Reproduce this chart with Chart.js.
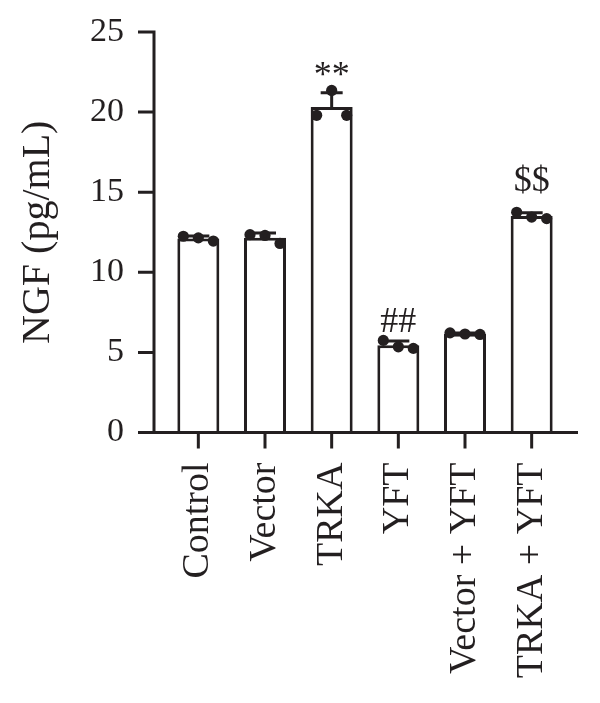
<!DOCTYPE html>
<html>
<head>
<meta charset="utf-8">
<script src="https://cdn.jsdelivr.net/npm/chart.js@4/dist/chart.umd.min.js"></script>
<style>
  html, body { margin: 0; padding: 0; background: #ffffff; }
  #wrap { width: 600px; height: 703px; }
</style>
</head>
<body>
<div id="wrap"><canvas id="chart-ngf"></canvas></div>
<script>
const grupos = ['Control', 'Vector', 'TRKA', 'YFT', 'Vector + YFT', 'TRKA + YFT'];
const control = [12.25, 12.15, 11.95];
const vector = [12.35, 12.3, 11.8];
const trka = [19.8, 21.35, 19.8];
const yft = [5.75, 5.35, 5.25];
const vectorYft = [6.22, 6.15, 6.12];
const trkaYft = [13.75, 13.45, 13.35];
const marcas = ['', '', '**', '##', '', '$$'];
const yTicks = [0, 5, 10, 15, 20, 25];

const replicas = [control, vector, trka, yft, vectorYft, trkaYft];
const jitter = [-0.225, 0, 0.225];
const marcaLift = [0, 0, 0, 4.5, 0, 17.5];
const INK = '#231f20';
const FONT = "'Liberation Serif', 'DejaVu Serif', serif";

const media = (arr) => arr.reduce((a, b) => a + b, 0) / arr.length;
const desvio = (arr) => {
  const m = media(arr);
  return Math.sqrt(arr.reduce((s, v) => s + (v - m) * (v - m), 0) / (arr.length - 1));
};

const medias = replicas.map(media);
const pontos = [];
replicas.forEach((vals, i) => {
  vals.forEach((v, j) => pontos.push({ x: i + jitter[j], y: v }));
});

function semPadding(scale) {
  scale.paddingTop = 0;
  scale.paddingBottom = 0;
  scale.paddingLeft = 0;
  scale.paddingRight = 0;
}

// axes, error bars and significance marks drawn by hand
const eixosPlugin = {
  id: 'eixos',
  afterDatasetsDraw(chart) {
    const { ctx } = chart;
    const y = chart.scales.y;
    const x = chart.scales.x;
    const base = y.getPixelForValue(0);
    ctx.save();
    ctx.strokeStyle = INK;
    ctx.lineWidth = 3;
    ctx.lineCap = 'butt';

    // error bars (mean + SD, upper only)
    replicas.forEach((vals, i) => {
      const cx = x.getPixelForValue(i);
      const top = y.getPixelForValue(medias[i] + desvio(vals));
      const yM = y.getPixelForValue(medias[i]);
      ctx.beginPath();
      ctx.moveTo(cx, yM);
      ctx.lineTo(cx, top);
      ctx.moveTo(cx - 11, top);
      ctx.lineTo(cx + 11, top);
      ctx.stroke();
    });

    // y axis
    const axX = 154;
    ctx.beginPath();
    ctx.moveTo(axX, y.getPixelForValue(25) - 1.5);
    ctx.lineTo(axX, base + 1.5);
    yTicks.forEach((t) => {
      const py = y.getPixelForValue(t);
      ctx.moveTo(138, py);
      ctx.lineTo(axX, py);
    });
    // x axis
    ctx.moveTo(138, base);
    ctx.lineTo(578, base);
    grupos.forEach((g, i) => {
      const px = x.getPixelForValue(i);
      ctx.moveTo(px, base);
      ctx.lineTo(px, base + 16);
    });
    ctx.stroke();

    // significance marks
    ctx.fillStyle = INK;
    ctx.font = '36px ' + FONT;
    ctx.textAlign = 'center';
    ctx.textBaseline = 'alphabetic';
    marcas.forEach((m, i) => {
      if (!m) return;
      const topVal = Math.max(medias[i] + desvio(replicas[i]), ...replicas[i]);
      const py = y.getPixelForValue(topVal) - 4 - marcaLift[i];
      ctx.fillText(m, x.getPixelForValue(i), py);
    });
    ctx.restore();
  },
};

const ctxNgf = document.getElementById('chart-ngf');

new Chart(ctxNgf, {
  data: {
    labels: grupos,
    datasets: [
      {
        type: 'bar',
        label: 'NGF',
        data: medias,
        backgroundColor: '#ffffff',
        borderColor: INK,
        borderWidth: 3,
        borderSkipped: 'bottom',
        barPercentage: 0.63,
        categoryPercentage: 1,
        grouped: false,
        order: 2,
        xAxisID: 'x',
      },
      {
        type: 'scatter',
        label: 'Replicas',
        data: pontos,
        backgroundColor: INK,
        borderColor: INK,
        pointRadius: 5.6,
        borderWidth: 0,
        order: 1,
        xAxisID: 'x2',
      },
    ],
  },
  options: {
    responsive: true,
    maintainAspectRatio: false,
    animation: false,
    layout: { padding: { top: 32, right: 35, left: 0, bottom: 0 } },
    plugins: {
      legend: { display: false },
      tooltip: { enabled: false },
    },
    scales: {
      x: {
        type: 'category',
        offset: true,
        grid: { display: false, drawTicks: false },
        border: { display: false },
        ticks: {
          autoSkip: false,
          minRotation: 90,
          maxRotation: 90,
          padding: 30,
          color: INK,
          font: { family: FONT, size: 38 },
        },
        afterFit: (scale) => { scale.height = 270.5; semPadding(scale); },
      },
      x2: {
        type: 'linear',
        display: false,
        min: -0.5,
        max: 5.5,
      },
      y: {
        min: 0,
        max: 25,
        grid: { display: false, drawTicks: false },
        border: { display: false },
        ticks: {
          stepSize: 5,
          padding: 41,
          color: INK,
          font: { family: FONT, size: 34 },
        },
        title: {
          display: true,
          text: 'NGF (pg/mL)',
          color: INK,
          font: { family: FONT, size: 40 },
          padding: { top: 14, bottom: 0 },
        },
        afterFit: (scale) => { scale.width = 165; semPadding(scale); },
      },
    },
  },
  plugins: [eixosPlugin],
});
</script>
</body>
</html>
